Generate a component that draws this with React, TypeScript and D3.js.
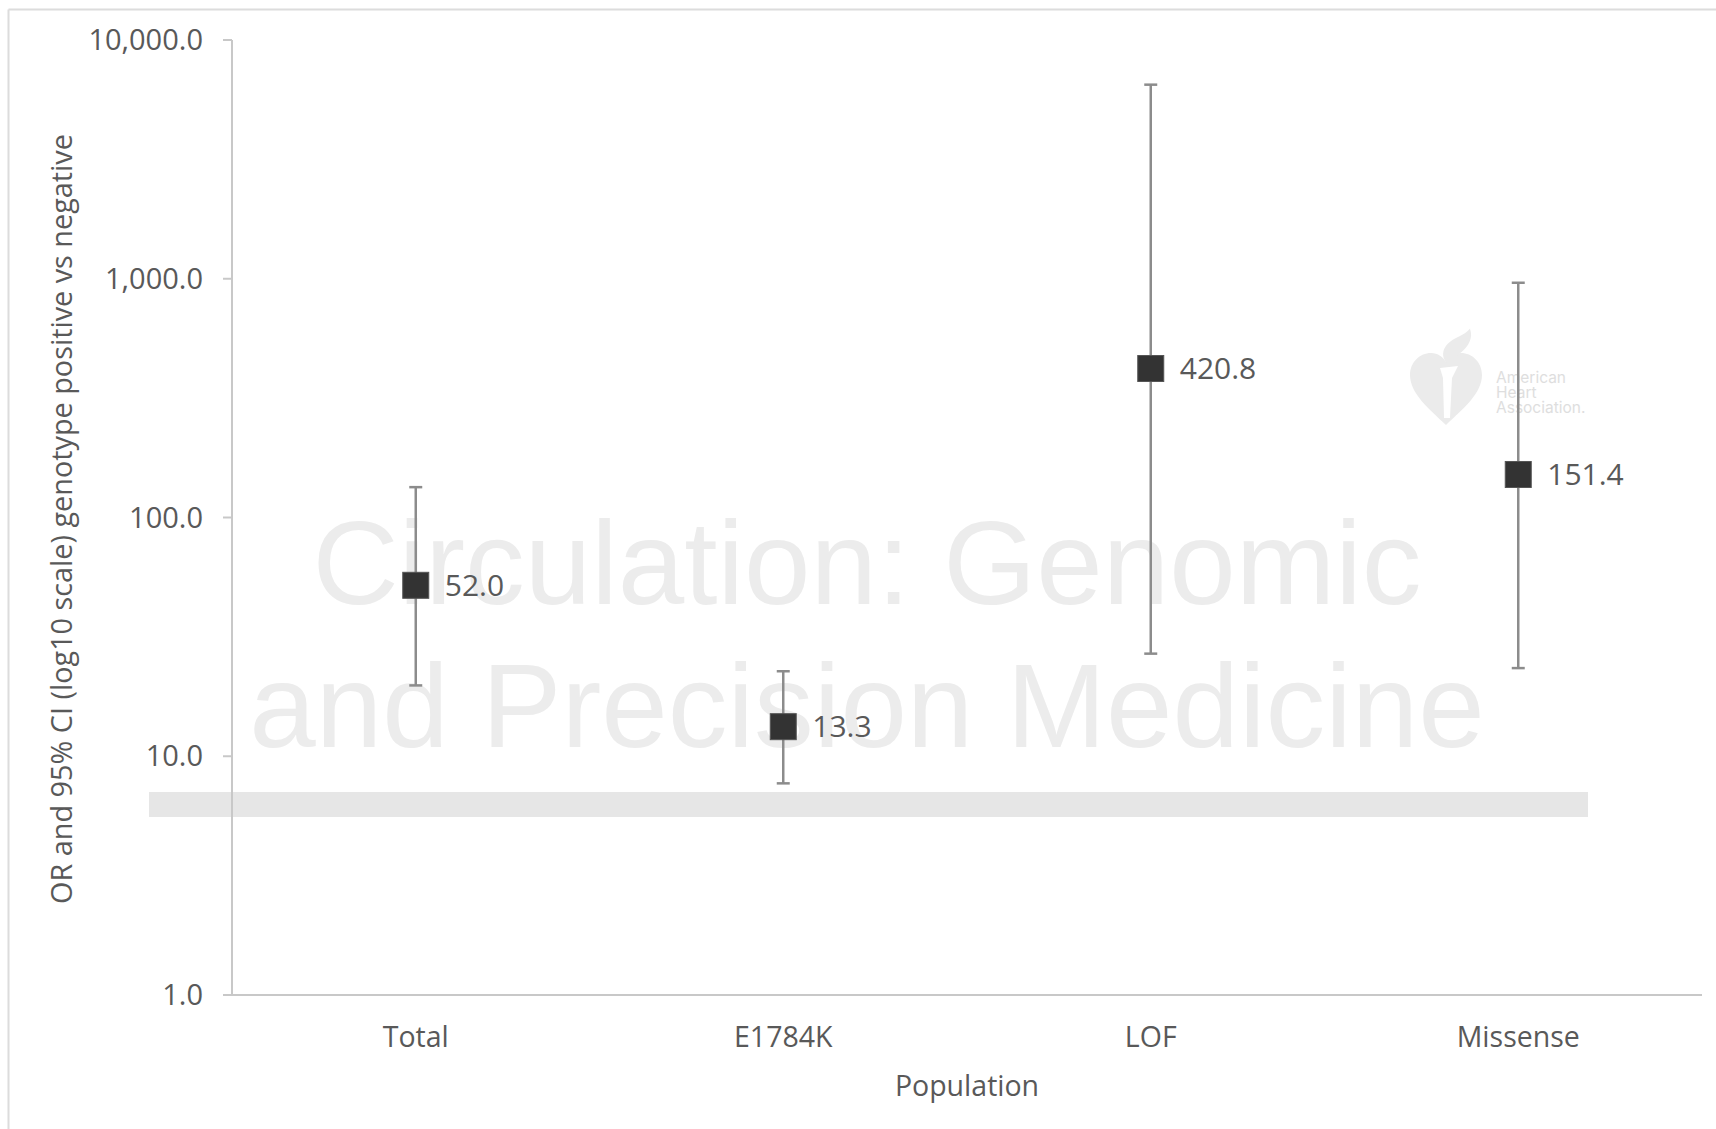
import React from "react";
import * as d3 from "d3";

const categories = ["Total", "E1784K", "LOF", "Missense"];
const orValues = [52.0, 13.3, 420.8, 151.4];
const ciLower = [19.8, 7.7, 26.9, 23.4];
const ciUpper = [134, 22.7, 6500, 962];
const orLabels = ["52.0", "13.3", "420.8", "151.4"];
const yTicks = [1, 10, 100, 1000, 10000];
const yTickLabels = ["1.0", "10.0", "100.0", "1,000.0", "10,000.0"];

const W = 1716;
const H = 1129;
const FONT = "'Open Sans', 'Noto Sans', sans-serif";
const TEXT = "#595959";

export default function App() {
  const x = d3.scaleBand<string>().domain(categories).range([232, 1702]).padding(0);
  const y = d3.scaleLog().domain([1, 10000]).range([995, 40]);
  const cx = (c: string) => (x(c) ?? 0) + x.bandwidth() / 2;
  const capW = 13;
  const ms = 26;

  const heart =
    "M 1446 425 C 1428 408 1410 393 1410 375 C 1410 362 1420 353 1431 353 C 1438 353 1443 357 1446 362 C 1449 357 1454 353 1461 353 C 1472 353 1482 362 1482 375 C 1482 393 1464 408 1446 425 Z";

  return (
    <svg
      width={W}
      height={H}
      viewBox={`0 0 ${W} ${H}`}
      style={{ position: "absolute", left: 0, top: 0, background: "#fff" }}
    >
      <rect x={0} y={0} width={W} height={H} fill="#ffffff" />
      {/* outer frame */}
      <line x1={8.5} y1={9.5} x2={W} y2={9.5} stroke="#dcdcdc" strokeWidth={2} />
      <line x1={8.5} y1={9.5} x2={8.5} y2={H} stroke="#dcdcdc" strokeWidth={2} />

      {/* watermark text */}
      <g fill="#ececec" fontFamily="'Liberation Sans', Arial, sans-serif" fontSize={119.5} textAnchor="middle">
        <text x={867} y={604}>Circulation: Genomic</text>
        <text x={867} y={747}>and Precision Medicine</text>
      </g>
      <rect x={149} y={792} width={1439} height={25} fill="#e6e6e6" />

      {/* AHA logo */}
      <g>
        <path d={heart} fill="#ebebeb" />
        <path d="M 1440 368 L 1458 366 L 1452 378 L 1450 418 L 1444 418 L 1443 378 Z" fill="#ffffff" />
        <path d="M 1447 364 C 1438 352 1446 342 1460 336 C 1470 331 1472 325 1470 329 C 1474 340 1466 350 1456 356 C 1452 359 1450 362 1449 365 Z" fill="#ebebeb" />
        <g fill="#dedede" fontFamily="'Inter', 'Noto Sans', sans-serif" fontSize={15.5}>
          <text x={1496} y={383}>American</text>
          <text x={1496} y={398}>Heart</text>
          <text x={1496} y={413}>Association.</text>
        </g>
      </g>

      {/* axes */}
      <line x1={232} y1={y(10000)} x2={232} y2={y(1)} stroke="#c8c8c8" strokeWidth={2} />
      <line x1={223} y1={y(1)} x2={1702} y2={y(1)} stroke="#c8c8c8" strokeWidth={2} />
      {yTicks.map((t, i) => (
        <g key={t}>
          <line x1={223} y1={y(t)} x2={232} y2={y(t)} stroke="#c8c8c8" strokeWidth={2} />
          <text
            x={203}
            y={y(t)}
            dy="0.35em"
            textAnchor="end"
            fontFamily={FONT}
            fontSize={29}
            fill={TEXT}
          >
            {yTickLabels[i]}
          </text>
        </g>
      ))}
      {categories.map((c) => (
        <text
          key={c}
          x={cx(c)}
          y={1037}
          dy="0.35em"
          textAnchor="middle"
          fontFamily={FONT}
          fontSize={28.5}
          fill={TEXT}
        >
          {c}
        </text>
      ))}
      <text x={967} y={1086} dy="0.35em" textAnchor="middle" fontFamily={FONT} fontSize={28.5} fill={TEXT}>
        Population
      </text>
      <text
        transform={`translate(62, 519) rotate(-90)`}
        dy="0.35em"
        textAnchor="middle"
        fontFamily={FONT}
        fontSize={28.8}
        fill={TEXT}
      >
        OR and 95% CI (log10 scale) genotype positive vs negative
      </text>

      {/* error bars and markers */}
      {categories.map((c, i) => {
        const px = cx(c);
        return (
          <g key={c}>
            <line x1={px} y1={y(ciLower[i])} x2={px} y2={y(ciUpper[i])} stroke="#8c8c8c" strokeWidth={2.5} />
            <line x1={px - capW / 2} y1={y(ciLower[i])} x2={px + capW / 2} y2={y(ciLower[i])} stroke="#8c8c8c" strokeWidth={2.5} />
            <line x1={px - capW / 2} y1={y(ciUpper[i])} x2={px + capW / 2} y2={y(ciUpper[i])} stroke="#8c8c8c" strokeWidth={2.5} />
            <rect
              x={px - ms / 2}
              y={y(orValues[i]) - ms / 2}
              width={ms}
              height={ms}
              fill="#333333"
              stroke="#555"
              strokeWidth={1}
            />
            <text
              x={px + 29}
              y={y(orValues[i])}
              dy="0.35em"
              fontFamily={FONT}
              fontSize={30}
              fill={TEXT}
            >
              {orLabels[i]}
            </text>
          </g>
        );
      })}
    </svg>
  );
}
